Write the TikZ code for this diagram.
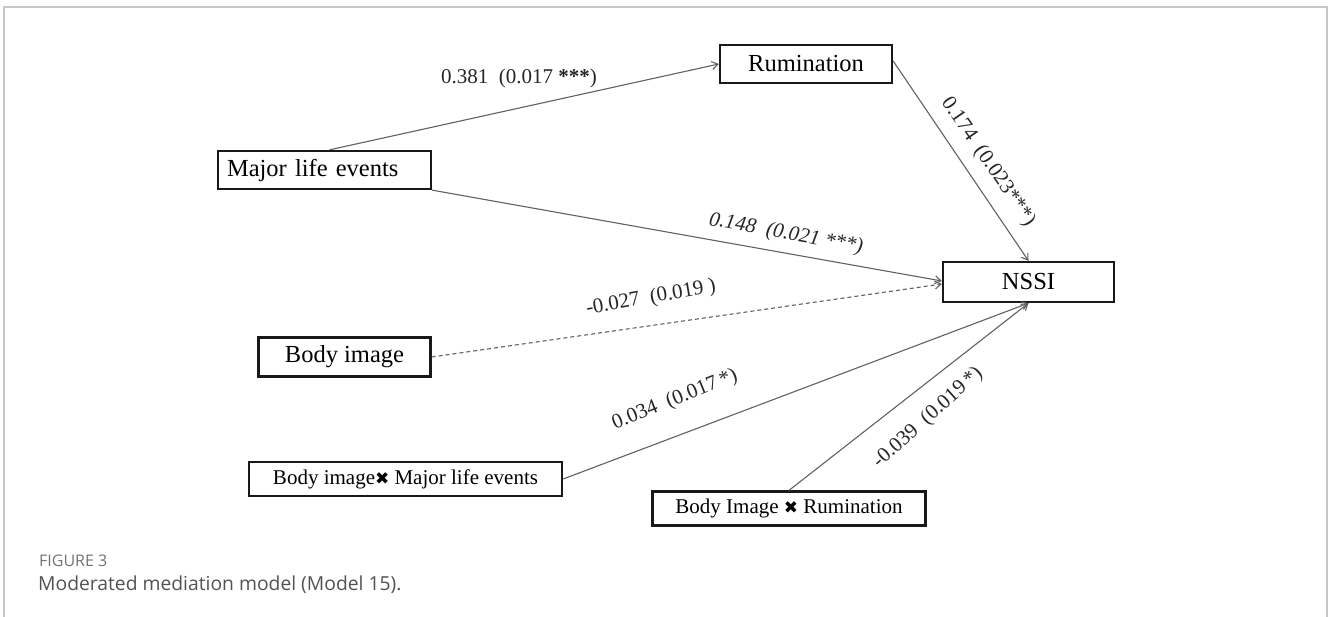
\documentclass[tikz,border=0pt]{standalone}
\usepackage{fontspec}
\setmainfont{Liberation Serif}
\newfontfamily\capfont{Open Sans}
\newfontfamily\symfont{DejaVu Sans}
\usetikzlibrary{arrows.meta}
\newcommand{\hx}{{\symfont\fontsize{17}{20}\selectfont ✖}}
\begin{document}
\begin{tikzpicture}[x=1pt,y=-1pt,
  box/.style={draw=black!90, line width=2.3pt, fill=white, inner sep=0pt,
    font=\fontsize{24.5}{28}\selectfont, align=center},
  smallbox/.style={box, font=\fontsize{21}{24}\selectfont},
  conn/.style={draw=black!62, line width=1.1pt, -{Straight Barb[length=6pt,width=8pt]}},
  lbl/.style={font=\fontsize{21}{24}\selectfont, inner sep=0pt, text=black!85}]
\useasboundingbox (0,0) rectangle (1328,617);
\draw[black!22, line width=1.5pt] (4,617) -- (4,7) -- (1327,7) -- (1327,617);

\node[box, minimum width=172pt, minimum height=38pt] (rum) at (806,64) {Rumination};
\node[box, minimum width=213pt, minimum height=38pt, text width=195pt, align=left] (mle) at (324.5,170) {Major life events};
\node[box, minimum width=171pt, minimum height=40pt] (nssi) at (1028.5,282) {NSSI};
\node[box, minimum width=172pt, minimum height=39pt] (body) at (344.5,357) {Body image};
\node[smallbox, minimum width=313pt, minimum height=34pt] (bimle) at (405.5,479) {Body image\hx\ Major life events};
\node[smallbox, minimum width=273pt, minimum height=34pt] (bir) at (789,508.5) {Body Image \hx\ Rumination};

\draw[conn] ([xshift=5pt]mle.north) -- (rum.west);
\draw[conn] (mle.south east) -- ([yshift=1pt]nssi.west);
\draw[conn, dashed, dash pattern=on 4pt off 3pt] (body.east) -- ([yshift=-2pt]nssi.west);
\draw[conn] ([yshift=3pt]rum.east) -- (nssi.north);
\draw[conn] (bimle.east) -- (nssi.south);
\draw[conn] (bir.north) -- (nssi.south);

\node[lbl] (l1) at (519,78) {0.381~~(0.017 \textbf{***})};
\node[lbl, rotate=-55.5] (l2) at (988,162) {0.174~~(0.023***)};
\node[lbl, rotate=-10.3] (l3) at (786,234) {\itshape 0.148~~(0.021 ***)};
\node[lbl, rotate=10] (l4) at (651,298) {-0.027~~(0.019 )};
\node[lbl, rotate=22] (l5) at (675,400) {0.034~~(0.017\,*)};
\node[lbl, rotate=42] (l6) at (928,418) {-0.039~~(0.019\,*)};

\node[anchor=base west, inner sep=0pt, text=black!55, font=\capfont\fontsize{16}{18}\selectfont] (fig) at (39,566) {FIGURE 3};
\node[anchor=base west, inner sep=0pt, text=black!68, font=\capfont\fontsize{19.3}{22}\selectfont] (cap) at (38,590) {Moderated mediation model (Model 15).};
\end{tikzpicture}
\end{document}
